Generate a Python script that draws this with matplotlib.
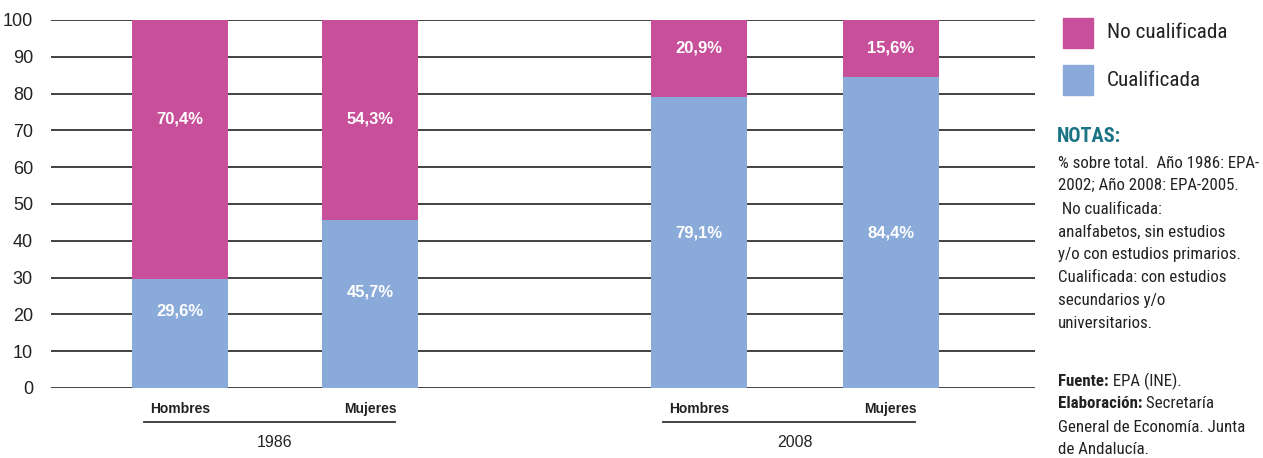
import matplotlib
matplotlib.use('Agg')
import matplotlib.pyplot as plt
from matplotlib.patches import Rectangle
from matplotlib import font_manager

# datos (% sobre total)
years = ['1986', '2008']
groups = ['Hombres', 'Mujeres', 'Hombres', 'Mujeres']
cualificada = [29.6, 45.7, 79.1, 84.4]
no_cualificada = [70.4, 54.3, 20.9, 15.6]
lbl_cual = ['29,6%', '45,7%', '79,1%', '84,4%']
lbl_nocual = ['70,4%', '54,3%', '20,9%', '15,6%']

# sitio de las etiquetas dentro de las barras
y_lbl_cual = [21, 26, 42, 42]
y_lbl_nocual = [73, 73, 92.5, 92.5]

pos = [0, 1, 2.73, 3.74]
C_NO = '#C8509B'
C_SI = '#8AAAD9'
TXT = '#222222'

W, H = 1263, 458
names = {f.name for f in font_manager.fontManager.ttflist}
narrow, stretch = 'Open Sans', 'condensed'
for cand in ['Roboto Condensed', 'Barlow Semi Condensed', 'PT Sans Narrow',
             'Archivo Narrow', 'Open Sans Condensed']:
    if cand in names:
        narrow, stretch = cand, 'normal'
        break
NF = dict(family=[narrow, 'DejaVu Sans'], fontstretch=stretch)

plt.rcParams['font.family'] = ['Liberation Sans', 'DejaVu Sans']

fig = plt.figure(figsize=(W / 100, H / 100), dpi=100)
ax = fig.add_axes([51 / W, (H - 388) / H, (1035 - 51) / W, (388 - 20) / H])

ax.bar(pos, cualificada, width=0.505, color=C_SI, zorder=3)
ax.bar(pos, no_cualificada, width=0.505, bottom=cualificada, color=C_NO, zorder=3)

for i, p in enumerate(pos):
    ax.text(p, y_lbl_cual[i], lbl_cual[i], color='white', fontsize=12,
            fontweight='bold', ha='center', va='center', zorder=4)
    ax.text(p, y_lbl_nocual[i], lbl_nocual[i], color='white', fontsize=12,
            fontweight='bold', ha='center', va='center', zorder=4)

ax.set_ylim(0, 100)
ax.set_xlim(-0.679, 4.5)
ax.set_yticks(range(0, 101, 10))
ax.yaxis.grid(True, color='#333333', linewidth=1.3)
ax.set_axisbelow(True)
for s in ax.spines.values():
    s.set_visible(False)
ax.tick_params(axis='y', length=0, pad=13, labelsize=13, labelcolor=TXT)
ax.set_xticks([])

# etiquetas de categorias y años
tr = ax.get_xaxis_transform()
for i, p in enumerate(pos):
    ax.text(p, -0.058, groups[i], transform=tr, ha='center', va='center',
            fontsize=10, fontweight='bold', color=TXT, clip_on=False)
for k, yr in enumerate(years):
    a, b = pos[2 * k], pos[2 * k + 1]
    ax.plot([a - 0.19, b + 0.13], [-0.093, -0.093], transform=tr,
            color='#333333', lw=1.3, clip_on=False)
    ax.text((a + b) / 2, -0.148, yr, transform=tr, ha='center', va='center',
            fontsize=11.5, color=TXT, clip_on=False)


def fx(px):
    return px / W


def fy(py):
    return (H - py) / H


renderer = fig.canvas.get_renderer()


def fit_size(text, target, weight='normal', start=14):
    t = fig.text(0, 0, text, fontsize=start, fontweight=weight, **NF)
    w = t.get_window_extent(renderer).width
    t.remove()
    return start * target / w


# leyenda
s_leg = fit_size('No cualificada', 121)
for yy, col, txt in [(18, C_NO, 'No cualificada'), (65, C_SI, 'Cualificada')]:
    fig.add_artist(Rectangle((fx(1063), fy(yy + 30)), 30 / W, 30 / H,
                             transform=fig.transFigure, color=col))
    fig.text(fx(1107), fy(yy + 15), txt, fontsize=s_leg, color=TXT,
             va='center', **NF)

s_notas = fit_size('NOTAS:', 65, weight='bold')
fig.text(fx(1057), fy(136), 'NOTAS:', fontsize=s_notas, fontweight='bold',
         color='#1A7485', va='center', **NF)

notas = ['% sobre total.  Año 1986: EPA-', '2002; Año 2008: EPA-2005.',
         ' No cualificada:', 'analfabetos, sin estudios',
         'y/o con estudios primarios.', 'Cualificada: con estudios',
         'secundarios y/o', 'universitarios.']
s_txt = fit_size(notas[0], 202)
for j, ln in enumerate(notas):
    fig.text(fx(1058), fy(163 + 23 * j), ln, fontsize=s_txt, color=TXT,
             va='center', **NF)

fuente = [('Fuente:', ' EPA (INE).'), ('Elaboración:', ' Secretaría'),
          (None, 'General de Economía. Junta'), (None, 'de Andalucía.')]
for j, (b, rest) in enumerate(fuente):
    yy = fy(381 + 23 * j)
    if b:
        t = fig.text(fx(1058), yy, b, fontsize=s_txt, fontweight='bold',
                     color=TXT, va='center', **NF)
        ax.annotate(rest, xy=(1, 0.5), xycoords=t, va='center', ha='left',
                    fontsize=s_txt, color=TXT, annotation_clip=False, **NF)
    else:
        fig.text(fx(1058), yy, rest, fontsize=s_txt, color=TXT,
                 va='center', **NF)

fig.savefig('out.png', dpi=100)
